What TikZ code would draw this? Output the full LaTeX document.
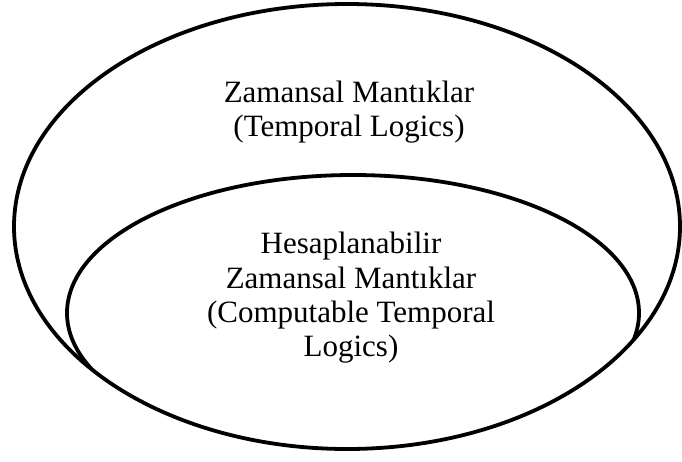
\documentclass[tikz,border=0pt]{standalone}
\usepackage{fontspec}
\setmainfont{Liberation Serif}
\begin{document}
\begin{tikzpicture}[x=1pt,y=-1pt,
  ring/.style={draw=black,line width=3.8pt},
  lbl/.style={anchor=base,inner sep=0pt,font=\fontsize{31}{34}\selectfont}]
\useasboundingbox (0,0) rectangle (682,461);
\draw[ring] (347,226.5) ellipse [x radius=333, y radius=222.5];
\begin{scope}
  \clip (347,226.5) ellipse [x radius=334, y radius=223.5];
  \draw[ring] (353,313) ellipse [x radius=286, y radius=138];
\end{scope}
\node[lbl] (t1) at (349,102) {Zamansal Mantıklar};
\node[lbl] (t2) at (349,136) {(Temporal Logics)};
\node[lbl] (c1) at (351,253) {Hesaplanabilir};
\node[lbl] (c2) at (351,288) {Zamansal Mantıklar};
\node[lbl] (c3) at (351,322) {(Computable Temporal};
\node[lbl] (c4) at (351,356) {Logics)};
\end{tikzpicture}
\end{document}
